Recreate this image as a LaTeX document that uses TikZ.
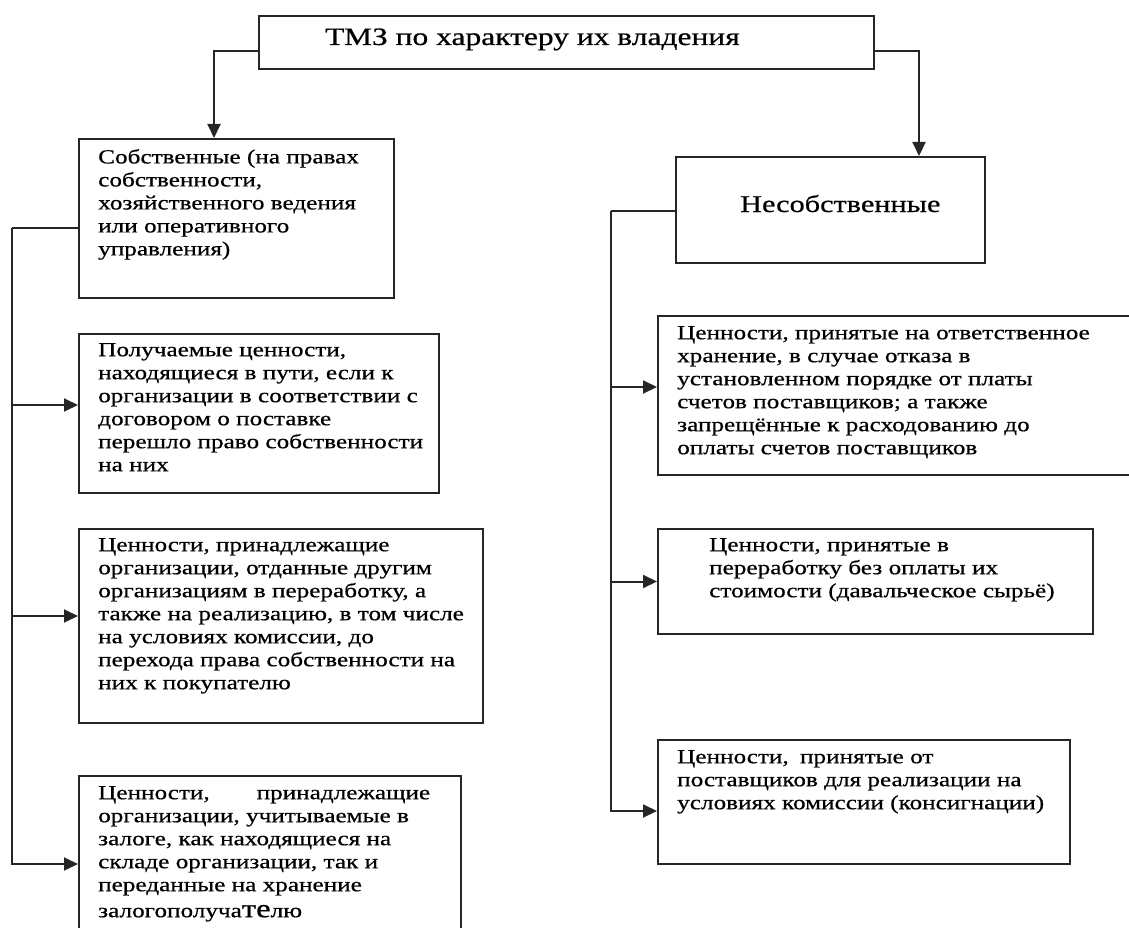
\documentclass[tikz,border=0pt]{standalone}
\usepackage{fontspec}
\setmainfont[FakeStretch=1.26, FakeBold=0.6]{Liberation Serif}
\usetikzlibrary{arrows.meta}
\begin{document}
\begin{tikzpicture}[x=1pt,y=-1pt,
  frame/.style={draw=black!85, line width=2pt, anchor=north west, inner sep=0pt},
  lnk/.style={draw=black!85, line width=2pt},
  arr/.style={lnk, -{Triangle[length=14pt,width=13pt]}},
  txt/.style={anchor=north west, inner sep=0pt, align=left,
    font=\fontsize{20}{23}\selectfont, execute at begin node=\strut},
  head/.style={anchor=base west, inner sep=0pt, font=\fontsize{#1}{#1}\selectfont},
]
\useasboundingbox (0,0) rectangle (1129,928);

% frames
\node[frame, minimum width=615pt, minimum height=53pt]  (top)  at (258,15)  {};
\node[frame, minimum width=315pt, minimum height=159pt] (own)  at (78,138)  {};
\node[frame, minimum width=309pt, minimum height=106pt] (nown) at (675,156) {};
\node[frame, minimum width=360pt, minimum height=159pt] (L1)   at (78,333)  {};
\node[frame, minimum width=404pt, minimum height=194pt] (L2)   at (78,528)  {};
\node[frame, minimum width=382pt, minimum height=170pt] (L3)   at (78,775)  {};
\node[frame, minimum width=483pt, minimum height=159pt] (R1)   at (657,315) {};
\node[frame, minimum width=435pt, minimum height=105pt] (R2)   at (657,528) {};
\node[frame, minimum width=412pt, minimum height=124pt] (R3)   at (657,739) {};

% texts
\node[head=25] (ttop) at (325,45) {ТМЗ по характеру их владения};
\node[head=24] (tnown) at (740,212) {Несобственные};
\node[txt] (town) at (98,148.9) {Собственные (на правах\\собственности,\\хозяйственного ведения\\или оперативного\\управления)};
\node[txt] (tL1) at (98,342.9) {Получаемые ценности,\\находящиеся в пути, если к\\организации в соответствии с\\договором о поставке\\перешло право собственности\\на них};
\node[txt] (tL2) at (98,537.9) {Ценности, принадлежащие\\организации, отданные другим\\организациям в переработку, а\\также на реализацию, в том числе\\на условиях комиссии, до\\перехода права собственности на\\них к покупателю};
\node[txt] (tL3) at (98,785.9) {\makebox[332pt][s]{Ценности, принадлежащие}\\организации, учитываемые в\\залоге, как находящиеся на\\складе организации, так и\\переданные на хранение\\[3pt]залогополуча{\fontsize{26}{23}\selectfont те}лю};
\node[txt] (tR1) at (677,325.9) {Ценности, принятые на ответственное\\хранение, в случае отказа в\\установленном порядке от платы\\счетов поставщиков; а также\\запрещённые к расходованию до\\оплаты счетов поставщиков};
\node[txt] (tR2) at (709,537.9) {Ценности, принятые в\\переработку без оплаты их\\стоимости (давальческое сырьё)};
\node[txt] (tR3) at (677,749.9) {Ценности,\hspace{5pt} принятые от\\поставщиков для реализации на\\условиях комиссии (консигнации)};

% connectors from the heading
\draw[arr] ([yshift=-8.5pt]top.west) -| ([xshift=-22.5pt]own.north);
\draw[arr] ([yshift=-8.5pt]top.east) -| ([xshift=88.5pt]nown.north);

% left trunk
\draw[lnk] ([yshift=-9.5pt]own.west) -- ++(-66,0) coordinate (lt);
\path ([yshift=8.5pt]L1.west) coordinate (L1in)
      ([yshift=10pt]L2.west) coordinate (L2in)
      ([yshift=-3pt]L3.west) coordinate (L3in);
\draw[arr] (lt) |- (L3in);
\draw[arr] (L1in -| lt) -- (L1in);
\draw[arr] (L2in -| lt) -- (L2in);

% right trunk
\draw[lnk] ([yshift=-1pt]nown.west) -- ++(-64,0) coordinate (rt);
\path ([yshift=8.5pt]R1.west) coordinate (R1in)
      (R2.west) coordinate (R2in)
      ([yshift=-9pt]R3.west) coordinate (R3in);
\draw[arr] (rt) |- (R3in);
\draw[arr] (R1in -| rt) -- (R1in);
\draw[arr] (R2in -| rt) -- (R2in);
\end{tikzpicture}
\end{document}
